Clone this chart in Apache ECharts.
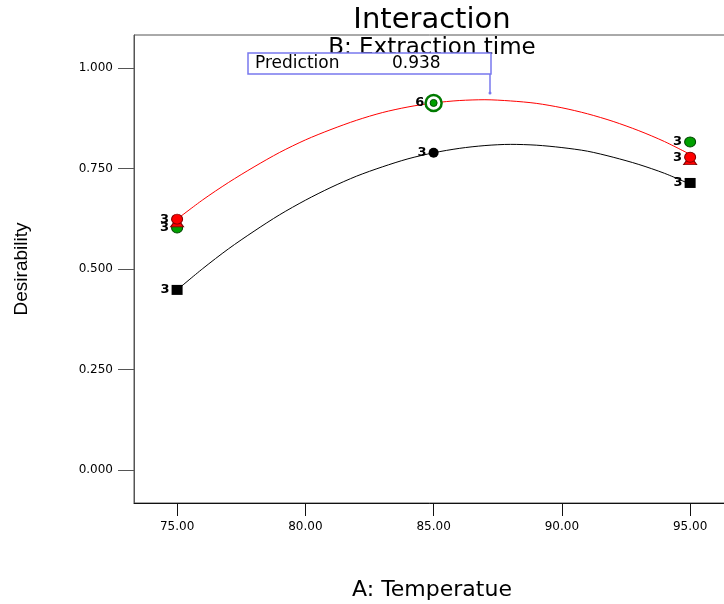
<!DOCTYPE html>
<html>
<head>
<meta charset="utf-8">
<script src="https://cdn.jsdelivr.net/npm/echarts@6/dist/echarts.min.js"></script>
<style>
  html, body { margin: 0; padding: 0; background: #fff; }
  #main { width: 724px; height: 604px; }
</style>
</head>
<body>
<div id="main"></div>
<script>
// axis ticks
const tempTicks = [75, 80, 85, 90, 95]
const desTicks = [0, 0.25, 0.5, 0.75, 1]

// model curves (B high = red, B low = black)
const curveTemp = [75, 76, 77, 78, 79, 80, 81, 82, 83, 84, 85, 86, 87, 88, 89, 90, 91, 92, 93, 94, 95]
const curveHigh = [0.624, 0.672, 0.715, 0.754, 0.790, 0.821, 0.847, 0.870, 0.889, 0.903, 0.913,
  0.919, 0.921, 0.918, 0.912, 0.901, 0.886, 0.867, 0.844, 0.817, 0.785]
const curveLow = [0.448, 0.501, 0.550, 0.594, 0.635, 0.671, 0.703, 0.731, 0.754, 0.774, 0.789,
  0.800, 0.807, 0.810, 0.808, 0.802, 0.793, 0.778, 0.760, 0.738, 0.711]

// design points, null where there is no point
const designTemp = [75, 85, 95]
const redCircle = [0.624, null, 0.778]
const redTriangle = [0.616, null, 0.771]
const greenCircle = [0.602, null, 0.816]
const blackSquare = [0.448, null, 0.714]
const blackCircle = [null, 0.789, null]
const centerPoint = [null, 0.913, null]
// replicate counts written beside the points
const sideCounts = ['3', '', '3']
const blackCenterCounts = ['', '3', '']
const centerCounts = ['', '6', '']

const font = 'DejaVu Sans'

function points(ys, counts) {
  const out = []
  ys.forEach((y, i) => {
    if (y === null) return
    out.push({ value: [designTemp[i], y], name: counts ? counts[i] : '' })
  })
  return out
}

const countLabel = {
  show: true,
  position: 'left',
  distance: 2,
  formatter: '{b}',
  color: '#000',
  fontFamily: font,
  fontWeight: 'bold',
  fontSize: 13
}

const myChart = echarts.init(document.getElementById('main'))

const option = {
  animation: false,
  backgroundColor: '#fff',
  grid: {
    left: 134,
    top: 35,
    bottom: 101,
    width: 610,
    outerBoundsMode: 'none',
    containLabel: false,
    show: true,
    borderColor: '#555',
    borderWidth: 1
  },
  xAxis: {
    type: 'value',
    min: 73.32,
    max: 97.1,
    splitLine: { show: false },
    axisLine: { show: true, onZero: false, lineStyle: { color: '#111', width: 1 } },
    axisTick: { show: true, inside: false, length: 13, customValues: tempTicks, lineStyle: { color: '#111' } },
    axisLabel: {
      customValues: tempTicks,
      margin: 18,
      formatter: v => v.toFixed(2),
      color: '#000',
      fontFamily: font,
      fontSize: 12
    },
    name: 'A: Temperatue',
    nameLocation: 'middle',
    nameGap: 76,
    nameTextStyle: { fontFamily: font, fontSize: 22, color: '#000', padding: [0, 14, 0, 0] }
  },
  yAxis: {
    type: 'value',
    min: -0.082,
    max: 1.082,
    splitLine: { show: false },
    axisLine: { show: true, onZero: false, lineStyle: { color: '#555', width: 1 } },
    axisTick: { show: true, inside: false, length: 16, customValues: desTicks, lineStyle: { color: '#555' } },
    axisLabel: {
      customValues: desTicks,
      margin: 21,
      formatter: v => v.toFixed(3),
      color: '#000',
      fontFamily: font,
      fontSize: 12
    },
    name: 'Desirability',
    nameLocation: 'middle',
    nameGap: 103,
    nameTextStyle: { fontFamily: 'Liberation Sans', fontSize: 19, color: '#000' }
  },
  graphic: [
    {
      type: 'text', z: 10,
      x: 432, y: 6,
      style: { text: 'Interaction', align: 'center', fontFamily: font, fontSize: 29, fill: '#000' }
    },
    {
      type: 'text', z: 10,
      x: 432, y: 37,
      style: { text: 'B: Extraction time', align: 'center', fontFamily: font, fontSize: 23, fill: '#000' }
    },
    {
      type: 'rect', z: 20,
      shape: { x: 248, y: 53, width: 243, height: 21 },
      style: { fill: '#fff', stroke: '#7878ee', lineWidth: 1.5 }
    },
    {
      type: 'text', z: 21, x: 255, y: 55,
      style: { text: 'Prediction', fontFamily: font, fontSize: 17, fill: '#000' }
    },
    {
      type: 'text', z: 21, x: 392, y: 55,
      style: { text: '0.938', fontFamily: font, fontSize: 17, fill: '#000' }
    },
    {
      type: 'line', z: 20,
      shape: { x1: 490, y1: 74, x2: 490, y2: 92 },
      style: { stroke: '#7878ee', lineWidth: 1.5 }
    },
    {
      type: 'circle', z: 20,
      shape: { cx: 490, cy: 93, r: 1.5 },
      style: { fill: '#7878ee' }
    }
  ],
  series: [
    {
      type: 'line',
      data: curveTemp.map((x, i) => [x, curveHigh[i]]),
      smooth: 0.3,
      showSymbol: false,
      lineStyle: { color: '#ff0000', width: 1 },
      z: 2
    },
    {
      type: 'line',
      data: curveTemp.map((x, i) => [x, curveLow[i]]),
      smooth: 0.3,
      showSymbol: false,
      lineStyle: { color: '#000', width: 1 },
      z: 2
    },
    {
      type: 'scatter',
      data: points(greenCircle, sideCounts),
      symbol: 'circle',
      symbolSize: [11, 10],
      itemStyle: { color: '#00a000', borderColor: '#004400', borderWidth: 1, opacity: 1 },
      label: countLabel,
      z: 3
    },
    {
      type: 'scatter',
      data: points(redTriangle, null),
      symbol: 'triangle',
      symbolSize: [13, 9],
      itemStyle: { color: '#ff0000', borderColor: '#800000', borderWidth: 1, opacity: 1 },
      z: 4
    },
    {
      type: 'scatter',
      data: points(redCircle, sideCounts),
      symbol: 'circle',
      symbolSize: [11, 10],
      itemStyle: { color: '#ff0000', borderColor: '#800000', borderWidth: 1, opacity: 1 },
      label: countLabel,
      z: 5
    },
    {
      type: 'scatter',
      data: points(blackSquare, sideCounts),
      symbol: 'rect',
      symbolSize: [11, 10],
      itemStyle: { color: '#000', opacity: 1 },
      label: countLabel,
      z: 5
    },
    {
      type: 'scatter',
      data: points(blackCircle, blackCenterCounts),
      symbol: 'circle',
      symbolSize: 10,
      itemStyle: { color: '#000', opacity: 1 },
      label: countLabel,
      z: 5
    },
    {
      type: 'scatter',
      data: points(centerPoint, centerCounts),
      symbol: 'circle',
      symbolSize: 16,
      itemStyle: { color: '#fff', borderColor: '#007a00', borderWidth: 2.5, opacity: 1 },
      label: Object.assign({}, countLabel, { distance: 0 }),
      z: 5
    },
    {
      type: 'scatter',
      data: points(centerPoint, null),
      symbol: 'circle',
      symbolSize: 7,
      itemStyle: { color: '#00a000', borderColor: '#005000', borderWidth: 1, opacity: 1 },
      z: 6
    }
  ]
}

myChart.setOption(option)
</script>
</body>
</html>
